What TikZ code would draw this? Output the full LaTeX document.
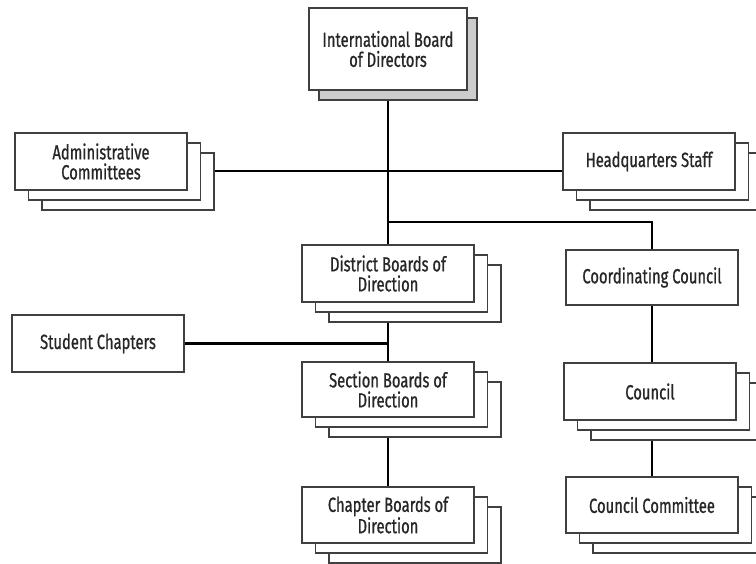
\documentclass[tikz,border=0pt]{standalone}
\usepackage{fontspec}
\setmainfont{Fira Sans}[FakeStretch=0.72, FakeBold=0.8]
\usepackage{tikz}
\usetikzlibrary{shadows, backgrounds}
\tikzset{
  box/.style={rectangle, draw=black!75, line width=1.4pt, fill=white, align=center,
    minimum width=172pt, minimum height=57pt, inner sep=2pt,
    font=\fontsize{20.5}{20}\selectfont, text=black!85},
  stack/.style={box,
    copy shadow={shadow xshift=27pt, shadow yshift=-20pt},
    copy shadow={shadow xshift=13.5pt, shadow yshift=-10pt}},
  link/.style={line width=2.8pt, black}
}

\begin{document}
\begin{tikzpicture}[x=1pt, y=-1pt]
\useasboundingbox (0,0) rectangle (756,563);

% top
\node[box, minimum width=158pt, minimum height=82pt,
  copy shadow={shadow xshift=10pt, shadow yshift=-10pt, fill=gray!40}]
  (intl) at (388,49) {International Board\\of Directors};

\node[stack] (admin) at (101,161.5) {Administrative\\Committees};
\node[stack] (hq) at (649,161.5) {Headquarters Staff};

% left column
\node[stack] (district) at (388,273.5) {District Boards of\\Direction};
\node[box] (student) at (98,343.5) {Student Chapters};
\node[stack, minimum height=55pt] (section) at (388,389.5) {Section Boards of\\Direction};
\node[stack, minimum height=56pt] (chapter) at (388,515) {Chapter Boards of\\Direction};

% right column
\node[box, minimum height=55pt] (coord) at (652,277.5) {Coordinating Council};
\node[stack] (council) at (650,391.5) {Council};
\node[stack, minimum height=56pt] (committee) at (652,505) {Council Committee};

\coordinate (fork) at (intl |- 0,222);

\begin{scope}[on background layer]
\draw[link] (intl) -- (chapter);
\draw[link] ([yshift=-9.5pt]admin.east) -- ([yshift=-9.5pt]hq.west);
\draw[link] (fork) -| (coord);
\draw[link] (student.east) -- (student.east -| intl);
\draw[link] (coord) -- (coord |- committee);
\end{scope}
\end{tikzpicture}
\end{document}
